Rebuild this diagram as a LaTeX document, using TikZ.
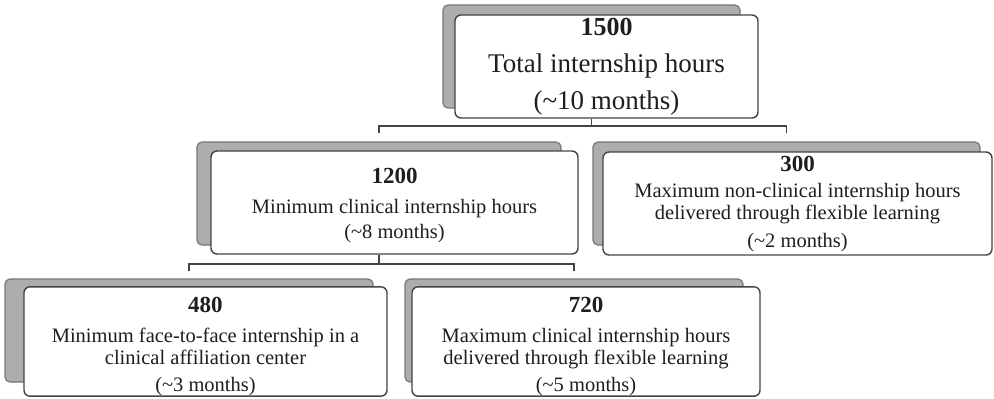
\documentclass[tikz,border=0pt]{standalone}
\usepackage{fontspec}
\setmainfont{Liberation Serif}
\usetikzlibrary{calc}
\definecolor{inkc}{HTML}{1E1E1E}
\definecolor{edgec}{HTML}{444444}
\definecolor{backc}{HTML}{ADADAD}
\definecolor{backedge}{HTML}{777777}
\tikzset{
 back/.style={draw=backedge, fill=backc, line width=1.2pt, rounded corners=5pt, minimum height=103pt, inner sep=0pt},
 front/.style={draw=edgec, fill=white, line width=1.4pt, rounded corners=6pt, minimum height=103pt, inner sep=0pt, align=center, text=inkc, font=\fontsize{20.5}{22}\selectfont},
 conn/.style={draw=edgec, line width=1.6pt},
}
\newcommand{\numtxt}[2]{\rule{0pt}{#1}{\bfseries\fontsize{23}{23}\selectfont #2}}
\begin{document}
\begin{tikzpicture}[x=1pt,y=-1pt]
\useasboundingbox[fill=white] (0,0) rectangle (994,399);
% back cards
\node[back, minimum width=297pt] (b1500) at (591.5,56.5) {};
\node[back, minimum width=364pt] (b1200) at (379,193.5) {};
\node[back, minimum width=387pt] (b300) at (786.5,193.5) {};
\node[back, minimum width=368pt] (b480) at (189,330.5) {};
\node[back, minimum width=338pt] (b720) at (574,330.5) {};
% front cards
\node[front, minimum width=303pt, font=\fontsize{27}{37}\selectfont] (f1500) at (606.5,66.5)
 {{\bfseries\fontsize{26}{26}\selectfont 1500}\\Total internship hours\\(\textasciitilde10 months)};
\node[front, minimum width=367pt] (f1200) at (394.5,202.5)
 {\numtxt{22pt}{1200}\\[8pt]Minimum clinical internship hours\\[3pt](\textasciitilde8 months)};
\node[front, minimum width=389pt] (f300) at (797.5,203.5)
 {\numtxt{16pt}{300}\\[4pt]Maximum non-clinical internship hours\\delivered through flexible learning\\[6pt](\textasciitilde2 months)};
\node[front, minimum width=363pt] (f480) at (205.5,341.5)
 {\numtxt{26pt}{480}\\[8pt]Minimum face-to-face internship in a\\clinical affiliation center\\[5pt](\textasciitilde3 months)};
\node[front, minimum width=348pt] (f720) at (586,341.5)
 {\numtxt{26pt}{720}\\[8pt]Maximum clinical internship hours\\delivered through flexible learning\\[5pt](\textasciitilde5 months)};
% connectors
\draw[conn] (b1500.south |- f1500.south) -- ++(0,7) coordinate (j1);
\draw[conn] ($(b1200.north)+(0,-8)$) |- (j1) -| ($(b300.north)+(0,-8)$);
\draw[conn] (b1200.south |- f1200.south) -- ++(0,9) coordinate (j2);
\draw[conn] ($(b480.north)+(0,-7)$) |- (j2) -| ($(b720.north)+(0,-7)$);
\end{tikzpicture}
\end{document}
